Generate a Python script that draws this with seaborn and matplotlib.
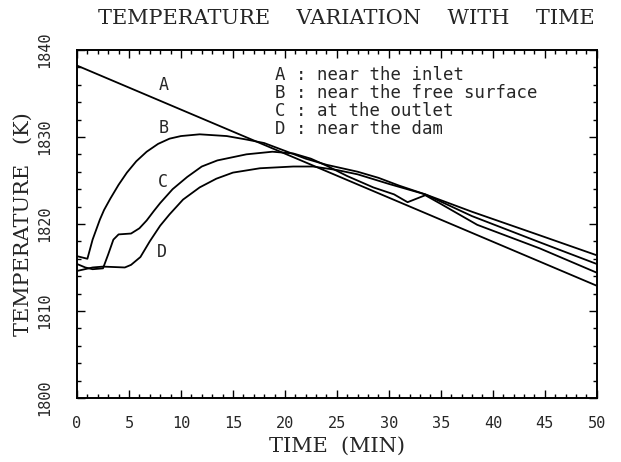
"""Temperature variation with time at four locations."""

import matplotlib
matplotlib.use("Agg")
import matplotlib.pyplot as plt
import seaborn as sns
from matplotlib.ticker import MultipleLocator

# --- data --------------------------------------------------------------
time_a = [0.0, 50.0]
temp_a = [1838.2, 1812.9]

time_b = [0.0, 1.0, 1.5, 2.2, 2.6, 3.2, 4.0, 4.8, 5.7, 6.7, 7.8, 8.9, 10.0,
          11.8, 14.4, 16.3, 18.0, 20.0, 22.0, 24.0, 27.0, 29.0, 31.0, 33.5,
          38.0, 44.5, 50.0]
temp_b = [1816.3, 1816.0, 1818.2, 1820.5, 1821.6, 1822.9, 1824.5, 1825.9,
          1827.2, 1828.3, 1829.2, 1829.8, 1830.1, 1830.3, 1830.1, 1829.7,
          1829.3, 1828.4, 1827.5, 1826.8, 1826.0, 1825.3, 1824.4, 1823.4,
          1821.4, 1818.7, 1816.4]

time_c = [0.0, 0.8, 1.5, 2.5, 3.0, 3.5, 4.0, 5.2, 6.0, 6.7, 7.4, 8.0, 9.2,
          10.6, 12.0, 13.5, 16.3, 18.8, 20.8, 22.5, 24.0, 26.0, 28.5, 30.5,
          31.8, 33.5, 35.0, 38.5, 44.5, 50.0]
temp_c = [1815.4, 1815.0, 1814.8, 1814.9, 1816.5, 1818.2, 1818.8, 1818.9,
          1819.5, 1820.4, 1821.5, 1822.4, 1824.0, 1825.4, 1826.6, 1827.3,
          1828.0, 1828.3, 1828.1, 1827.5, 1826.7, 1825.5, 1824.2, 1823.4,
          1822.5, 1823.3, 1822.3, 1819.9, 1817.2, 1814.4]

time_d = [0.0, 1.5, 2.5, 4.6, 5.2, 6.1, 7.0, 8.0, 8.9, 10.2, 11.8, 13.4,
          15.0, 17.6, 20.8, 22.7, 25.0, 27.0, 30.0, 33.5, 38.0, 44.5, 50.0]
temp_d = [1814.6, 1815.0, 1815.1, 1815.0, 1815.3, 1816.2, 1818.0, 1819.8,
          1821.1, 1822.8, 1824.2, 1825.2, 1825.9, 1826.4, 1826.6, 1826.6,
          1826.2, 1825.7, 1824.6, 1823.4, 1820.9, 1817.9, 1815.4]

curve_labels = ["A", "B", "C", "D"]
label_time = [8.3, 8.3, 8.3, 8.2]
label_temp = [1836.0, 1831.0, 1824.8, 1816.8]

legend_lines = ["A : near the inlet", "B : near the free surface",
                "C : at the outlet", "D : near the dam"]

sns.set_theme(style="ticks")
plt.rcParams["font.family"] = ["DejaVu Sans Mono", "DejaVu Sans"]

serif = {"family": "DejaVu Serif", "size": 15}

fig = plt.figure(figsize=(6.21, 4.62), dpi=100)
ax = fig.add_axes([0.124, 0.1385, 0.837, 0.7535])

curves = [(time_a, temp_a), (time_b, temp_b), (time_c, temp_c), (time_d, temp_d)]
for t, temp in curves:
    sns.lineplot(x=t, y=temp, ax=ax, color="black", linewidth=1.3, sort=False)

for lab, lt, lv in zip(curve_labels, label_time, label_temp):
    ax.text(lt, lv, lab, fontsize=12, ha="center", va="center")

for i, line in enumerate(legend_lines):
    ax.text(19.0, 1837.1 - 2.05 * i, line, fontsize=12.5, ha="left", va="center")

ax.set_xlim(0, 50)
ax.set_ylim(1800, 1840)
ax.xaxis.set_major_locator(MultipleLocator(5))
ax.xaxis.set_minor_locator(MultipleLocator(1))
ax.yaxis.set_major_locator(MultipleLocator(10))
ax.yaxis.set_minor_locator(MultipleLocator(2))
ax.tick_params(which="both", direction="in", top=True, right=True,
               color="black", width=1.0)
ax.tick_params(which="major", length=6)
ax.tick_params(which="minor", length=3)
ax.tick_params(axis="x", which="major", labelsize=11, pad=13)
ax.tick_params(axis="y", which="major", labelsize=11, pad=18)
for lbl in ax.get_yticklabels():
    lbl.set_rotation(90)
    lbl.set_va("center")
for sp in ax.spines.values():
    sp.set_visible(True)
    sp.set_color("black")
    sp.set_linewidth(1.4)

ax.set_xlabel("TIME  (MIN)", fontdict=serif, labelpad=4)
ax.set_ylabel("TEMPERATURE   (K)", fontdict=serif, labelpad=3)
fig.text(0.557, 0.961, "TEMPERATURE    VARIATION    WITH    TIME",
         ha="center", va="center", fontdict=serif)

fig.savefig("out.png", dpi=100)
